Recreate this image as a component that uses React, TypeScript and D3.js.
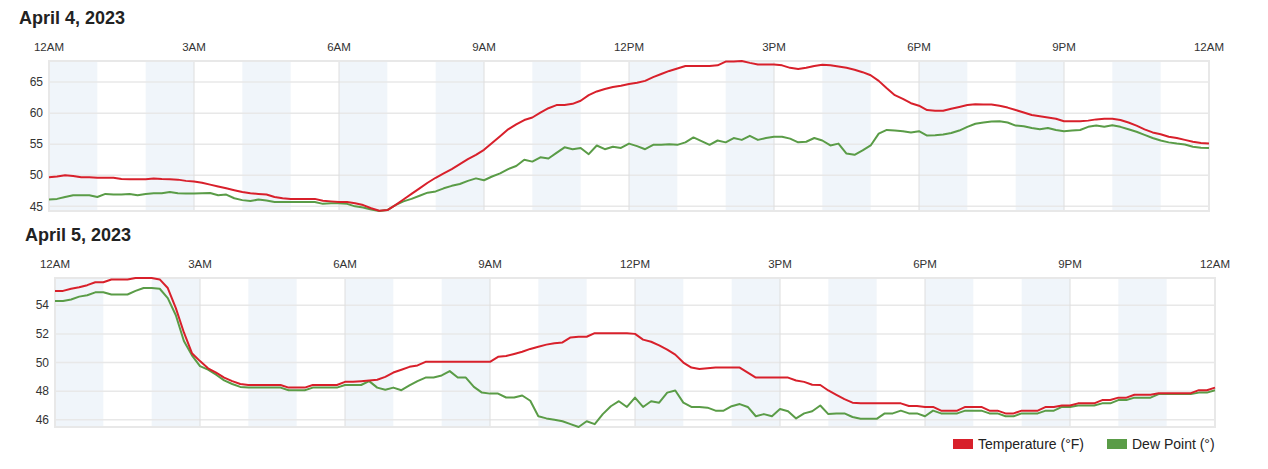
import React from 'react';
import * as d3 from 'd3';

// 10-minute readings, 12AM -> 12AM (145 points)
const tempApr4 = [
    49.7, 49.8, 50.0, 49.9, 49.7, 49.7,
    49.6, 49.6, 49.6, 49.4, 49.35, 49.35,
    49.35, 49.5, 49.4, 49.35, 49.3, 49.1,
    49.0, 48.8, 48.5, 48.2, 47.9, 47.6,
    47.3, 47.1, 47.0, 46.9, 46.5, 46.3,
    46.2, 46.2, 46.2, 46.2, 45.9, 45.8,
    45.7, 45.7, 45.5, 45.2, 44.7, 44.3,
    44.4, 45.2, 46.1, 47.0, 47.9, 48.8,
    49.6, 50.3, 51.0, 51.8, 52.6, 53.3,
    54.1, 55.2, 56.3, 57.4, 58.2, 58.9,
    59.3, 60.1, 60.8, 61.3, 61.3, 61.5,
    62.0, 62.9, 63.5, 63.9, 64.2, 64.4,
    64.7, 64.9, 65.2, 65.8, 66.3, 66.8,
    67.2, 67.6, 67.6, 67.6, 67.6, 67.7,
    68.3, 68.3, 68.4, 68.1, 67.85, 67.85,
    67.85, 67.7, 67.3, 67.1, 67.3, 67.6,
    67.8, 67.7, 67.5, 67.3, 67.0, 66.6,
    66.1, 65.2, 64.0, 62.9, 62.3, 61.6,
    61.2, 60.5, 60.4, 60.4, 60.7, 61.0,
    61.3, 61.45, 61.4, 61.4, 61.2, 60.9,
    60.5, 60.1, 59.7, 59.5, 59.3, 59.1,
    58.7, 58.7, 58.7, 58.8, 59.0, 59.1,
    59.1, 58.9, 58.5, 58.0, 57.4, 56.9,
    56.6, 56.2, 56.0, 55.7, 55.4, 55.2,
    55.1,
];

const dewApr4 = [
    46.1, 46.2, 46.5, 46.8, 46.8, 46.8,
    46.5, 47.0, 46.9, 46.9, 47.0, 46.8,
    47.0, 47.1, 47.1, 47.3, 47.1, 47.05,
    47.05, 47.1, 47.15, 46.8, 46.9, 46.3,
    46.0, 45.85, 46.1, 45.95, 45.7, 45.7,
    45.7, 45.7, 45.7, 45.7, 45.4, 45.5,
    45.5, 45.4, 45.0, 44.8, 44.5, 44.25,
    44.4, 45.2, 45.8, 46.2, 46.7, 47.2,
    47.4, 47.9, 48.3, 48.6, 49.1, 49.5,
    49.2, 49.8, 50.3, 51.0, 51.5, 52.5,
    52.2, 52.9, 52.7, 53.6, 54.5, 54.2,
    54.4, 53.4, 54.8, 54.2, 54.6, 54.4,
    55.1, 54.7, 54.2, 54.9, 54.9, 55.0,
    54.9, 55.3, 56.1, 55.5, 54.9, 55.6,
    55.3, 56.0, 55.7, 56.35, 55.7, 56.0,
    56.2, 56.2, 55.9, 55.3, 55.4, 56.0,
    55.6, 54.8, 55.1, 53.5, 53.3, 54.0,
    54.8, 56.7, 57.3, 57.2, 57.1, 56.9,
    57.1, 56.4, 56.45, 56.55, 56.8, 57.2,
    57.8, 58.3, 58.5, 58.65, 58.7, 58.5,
    58.0, 57.9, 57.6, 57.4, 57.6, 57.3,
    57.1, 57.2, 57.3, 57.8, 58.0, 57.8,
    58.05, 57.8, 57.4, 57.0, 56.5, 56.0,
    55.6, 55.3, 55.1, 54.95, 54.6, 54.45,
    54.4,
];

const tempApr5 = [
    55.0, 55.0, 55.15, 55.25, 55.4, 55.6,
    55.6, 55.8, 55.8, 55.8, 55.9, 55.9,
    55.9, 55.8, 55.2, 53.8, 52.1, 50.65,
    50.1, 49.6, 49.3, 48.95, 48.7, 48.5,
    48.43, 48.43, 48.43, 48.43, 48.43, 48.25,
    48.25, 48.25, 48.43, 48.43, 48.43, 48.43,
    48.65, 48.65, 48.7, 48.75, 48.8, 49.0,
    49.3, 49.5, 49.7, 49.8, 50.05, 50.05,
    50.05, 50.05, 50.05, 50.05, 50.05, 50.05,
    50.05, 50.4, 50.45, 50.6, 50.75, 50.95,
    51.1, 51.25, 51.35, 51.4, 51.75, 51.8,
    51.8, 52.05, 52.05, 52.05, 52.05, 52.05,
    52.0, 51.6, 51.45, 51.2, 50.9, 50.55,
    50.0, 49.65, 49.55, 49.6, 49.65, 49.65,
    49.65, 49.65, 49.3, 48.95, 48.95, 48.95,
    48.95, 48.95, 48.75, 48.65, 48.45, 48.43,
    48.05, 47.75, 47.45, 47.2, 47.15, 47.15,
    47.15, 47.15, 47.15, 47.15, 46.97, 46.97,
    46.9, 46.9, 46.64, 46.64, 46.64, 46.9,
    46.9, 46.9, 46.64, 46.64, 46.45, 46.45,
    46.64, 46.64, 46.64, 46.9, 46.9, 47.0,
    47.0, 47.15, 47.15, 47.15, 47.38, 47.38,
    47.55, 47.55, 47.75, 47.75, 47.75, 47.86,
    47.86, 47.86, 47.86, 47.86, 48.07, 48.07,
    48.25,
];

const dewApr5 = [
    54.3, 54.3, 54.4, 54.6, 54.7, 54.9,
    54.9, 54.75, 54.75, 54.75, 55.0, 55.2,
    55.2, 55.15, 54.5, 53.3, 51.5, 50.5,
    49.75, 49.5, 49.15, 48.75, 48.5, 48.3,
    48.25, 48.25, 48.25, 48.25, 48.25, 48.07,
    48.07, 48.07, 48.25, 48.25, 48.25, 48.25,
    48.43, 48.43, 48.43, 48.7, 48.25, 48.1,
    48.25, 48.07, 48.4, 48.7, 48.95, 48.95,
    49.1, 49.4, 48.95, 48.95, 48.3, 47.9,
    47.83, 47.83, 47.56, 47.56, 47.7, 47.33,
    46.25, 46.1, 46.0, 45.9, 45.7, 45.5,
    45.9, 45.7, 46.4, 46.95, 47.3, 46.9,
    47.55, 46.9, 47.3, 47.2, 47.9, 48.05,
    47.2, 46.9, 46.9, 46.85, 46.64, 46.64,
    46.95, 47.1, 46.9, 46.25, 46.4, 46.25,
    46.75, 46.6, 46.1, 46.45, 46.6, 47.0,
    46.4, 46.45, 46.45, 46.2, 46.07, 46.07,
    46.07, 46.45, 46.45, 46.64, 46.45, 46.45,
    46.25, 46.64, 46.45, 46.45, 46.45, 46.64,
    46.64, 46.64, 46.45, 46.45, 46.25, 46.25,
    46.45, 46.45, 46.45, 46.64, 46.64, 46.9,
    46.9, 47.0, 47.0, 47.0, 47.15, 47.15,
    47.38, 47.38, 47.55, 47.55, 47.55, 47.8,
    47.8, 47.8, 47.8, 47.8, 47.9, 47.9,
    48.07,
];

const hourLabels = ['12AM', '3AM', '6AM', '9AM', '12PM', '3PM', '6PM', '9PM', '12AM'];
const seriesNames = ['Temperature (°F)', 'Dew Point (°)'];

const RED = '#d8202b';
const GREEN = '#5a9c47';
const FONT = '"Liberation Sans", Arial, Helvetica, sans-serif';

const DayChart = ({ title, titleX, titleY, temp, dew, left, right, top, bottom }) => {
    const x = d3.scaleLinear().domain([0, 24]).range([left, right]);
    const y = d3.scaleLinear()
        .domain(d3.extent([...temp, ...dew]))
        .range([bottom, top]);

    const line = d3.line()
        .x((d, i) => x(i / 6))
        .y(d => y(d));

    const bands = d3.range(0, 24, 2);
    const yTicks = y.ticks(5);
    const xTicks = d3.range(0, 25, 3);

    return (
        <g>
            <text x={titleX} y={titleY} fontSize={18} fontWeight="bold" fill="#222" fontFamily={FONT}>
                {title}
            </text>
            {bands.map(h => (
                <rect key={h} x={x(h)} y={top} width={x(h + 1) - x(h)} height={bottom - top} fill="#f0f5fa" />
            ))}
            {yTicks.map(t => (
                <line key={t} x1={left} x2={right} y1={y(t)} y2={y(t)} stroke="#e8e8e8" strokeWidth={1.5} />
            ))}
            {xTicks.slice(1, -1).map(h => (
                <line key={h} x1={x(h)} x2={x(h)} y1={top} y2={bottom} stroke="#dedede" strokeWidth={1} />
            ))}
            <rect x={left} y={top} width={right - left} height={bottom - top} fill="none" stroke="#e8e8e8" strokeWidth={2} />
            {xTicks.map((h, i) => (
                <text key={h} x={x(h)} y={top - 10} fontSize={11.5} fill="#333" textAnchor="middle" fontFamily={FONT}>
                    {hourLabels[i]}
                </text>
            ))}
            {yTicks.map(t => (
                <text key={t} x={left - 6} y={y(t)} dy="0.35em" fontSize={12} fill="#333" textAnchor="end" fontFamily={FONT}>
                    {t}
                </text>
            ))}
            <path d={line(dew)} fill="none" stroke={GREEN} strokeWidth={2} strokeLinejoin="round" />
            <path d={line(temp)} fill="none" stroke={RED} strokeWidth={2} strokeLinejoin="round" />
        </g>
    );
};

const App = () => {
    const legend = [
        { name: seriesNames[0], color: RED, x: 953 },
        { name: seriesNames[1], color: GREEN, x: 1107 },
    ];

    return (
        <svg width={1268} height={469} style={{ position: 'absolute', left: 0, top: 0, background: '#fff' }}>
            <DayChart title="April 4, 2023" titleX={19} titleY={24}
                temp={tempApr4} dew={dewApr4} left={49} right={1209} top={61} bottom={211} />
            <DayChart title="April 5, 2023" titleX={25} titleY={241}
                temp={tempApr5} dew={dewApr5} left={55} right={1215} top={278} bottom={427} />
            {legend.map(l => (
                <g key={l.name}>
                    <rect x={l.x} y={439} width={20} height={10} fill={l.color} />
                    <text x={l.x + 25} y={449} fontSize={14} fill="#222" fontFamily={FONT}>{l.name}</text>
                </g>
            ))}
        </svg>
    );
};

export default App;
